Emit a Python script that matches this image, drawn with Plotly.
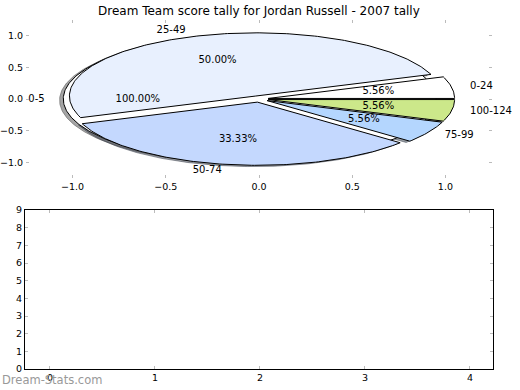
import numpy as np
import plotly.graph_objects as go

# ---------------- data ----------------
title_text = "Dream Team score tally for Jordan Russell - 2007 tally"
outer_labels = ["0-5"]
outer_values = [1]
outer_colors = ["#FFFFFF"]
outer_explode = [0.05]

labels = ["0-24", "25-49", "50-74", "75-99", "100-124"]
values = [1, 9, 6, 1, 1]
colors = ["#FFFFFF", "#E8F0FE", "#C4D8FE", "#B4D6FE", "#CCE88A"]
explode = [0.05, 0.05, 0.05, 0.05, 0.05]

pie_ticks = [-1.0, -0.5, 0.0, 0.5, 1.0]
bottom_xticks = [0, 1, 2, 3, 4]
bottom_yticks = [0, 1, 2, 3, 4, 5, 6, 7, 8, 9]
watermark = "Dream-Stats.com"

FONT = "DejaVu Sans"
W, H = 520, 390


def hex_to_rgb(h):
    h = h.lstrip("#")
    return tuple(int(h[i:i + 2], 16) for i in (0, 2, 4))


def pie_geometry(vals, expl):
    total = float(sum(vals))
    out = []
    t1 = 0.0
    for v, e in zip(vals, expl):
        frac = v / total
        t2 = t1 + frac
        thetam = np.pi * (t1 + t2)
        cx, cy = e * np.cos(thetam), e * np.sin(thetam)
        n = max(8, int(400 * frac))
        th = np.linspace(2 * np.pi * t1, 2 * np.pi * t2, n)
        if frac >= 0.999999:
            xs = list(cx + np.cos(th))
            ys = list(cy + np.sin(th))
        else:
            xs = [cx] + list(cx + np.cos(th)) + [cx]
            ys = [cy] + list(cy + np.sin(th)) + [cy]
        out.append(dict(x=xs, y=ys, cx=cx, cy=cy, thetam=thetam, pct=100 * frac))
        t1 = t2
    return out


outer_geo = pie_geometry(outer_values, outer_explode)
main_geo = pie_geometry(values, explode)

fig = go.Figure()

# shadows (drawn beneath everything)
for geo, cols in ((outer_geo, outer_colors), (main_geo, colors)):
    for g, c in zip(geo, cols):
        r, gg, b = hex_to_rgb(c)
        sc = "rgba(%d,%d,%d,0.5)" % (int(0.3 * r), int(0.3 * gg), int(0.3 * b))
        fig.add_trace(go.Scatter(
            x=[x - 0.02 for x in g["x"]], y=[y - 0.02 for y in g["y"]],
            mode="lines", fill="toself", fillcolor=sc,
            line=dict(color=sc, width=1), hoverinfo="skip", showlegend=False,
            xaxis="x", yaxis="y"))

# wedges
for geo, cols in ((outer_geo, outer_colors), (main_geo, colors)):
    for g, c in zip(geo, cols):
        fig.add_trace(go.Scatter(
            x=g["x"], y=g["y"], mode="lines", fill="toself", fillcolor=c,
            line=dict(color="black", width=1), hoverinfo="skip", showlegend=False,
            xaxis="x", yaxis="y"))

# labels
for geo, labs in ((outer_geo, outer_labels), (main_geo, labels)):
    for g, lab in zip(geo, labs):
        xt = g["cx"] + 1.1 * np.cos(g["thetam"])
        yt = g["cy"] + 1.1 * np.sin(g["thetam"])
        fig.add_trace(go.Scatter(
            x=[xt], y=[yt], mode="text", text=[lab],
            textposition="middle right" if xt > 0 else "middle left",
            textfont=dict(family=FONT, size=10, color="black"), cliponaxis=False,
            hoverinfo="skip", showlegend=False, xaxis="x", yaxis="y"))
        xp = g["cx"] + 0.6 * np.cos(g["thetam"])
        yp = g["cy"] + 0.6 * np.sin(g["thetam"])
        fig.add_trace(go.Scatter(
            x=[xp], y=[yp], mode="text", text=["%.2f%%" % g["pct"]],
            textposition="middle center", cliponaxis=False,
            textfont=dict(family=FONT, size=10, color="black"),
            hoverinfo="skip", showlegend=False, xaxis="x", yaxis="y"))

# empty lower axes (invisible point to instantiate axes)
fig.add_trace(go.Scatter(x=[None], y=[None], mode="markers", showlegend=False,
                         hoverinfo="skip", xaxis="x2", yaxis="y2"))

tick_common = dict(ticks="inside", ticklen=3, tickwidth=1, tickcolor="#BBBBBB",
                   showgrid=False, zeroline=False, automargin=False,
                   tickfont=dict(family=FONT, size=9.5, color="black"))

fig.update_layout(
    width=W, height=H,
    margin=dict(l=0, r=0, t=0, b=0, autoexpand=False),
    paper_bgcolor="white", plot_bgcolor="white",
    xaxis=dict(domain=[26 / W, 492 / W], range=[-1.25, 1.25],
               tickvals=pie_ticks, tickformat=".1f",
               showline=True, linecolor="rgba(0,0,0,0)", mirror="ticks",
               anchor="y", **tick_common),
    yaxis=dict(domain=[1 - 178 / H, 1 - 20 / H], range=[-1.25, 1.25],
               tickvals=pie_ticks, tickformat=".1f",
               showline=True, linecolor="rgba(0,0,0,0)", mirror="ticks",
               anchor="x", **tick_common),
    xaxis2=dict(domain=[25 / W, 493 / W], range=[-0.238, 4.22],
                tickvals=bottom_xticks,
                showline=True, linecolor="black", linewidth=1, mirror="ticks",
                anchor="y2", **tick_common),
    yaxis2=dict(domain=[1 - 369 / H, 1 - 210 / H], range=[0, 9],
                tickvals=bottom_yticks,
                showline=True, linecolor="black", linewidth=1, mirror="ticks",
                anchor="x2", **tick_common),
    annotations=[
        dict(text=title_text, xref="paper", yref="paper",
             x=259 / W, y=1 - 11 / H, xanchor="center", yanchor="middle",
             showarrow=False, font=dict(family=FONT, size=12, color="black")),
        dict(text=watermark, xref="paper", yref="paper",
             x=0, y=1 - 380 / H, xanchor="left", yanchor="middle",
             showarrow=False, font=dict(family=FONT, size=11.5, color="#999999")),
    ],
)

fig.write_html("out.html", config={"displayModeBar": False},
               post_script="document.body.style.margin='0';document.body.style.overflow='hidden';")
